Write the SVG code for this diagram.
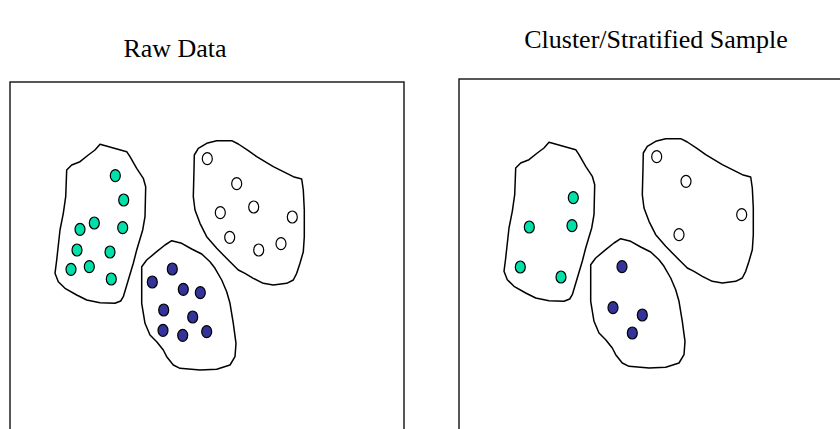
<svg xmlns="http://www.w3.org/2000/svg" xmlns:xlink="http://www.w3.org/1999/xlink" width="840" height="429" viewBox="0 0 840 429">
<style>
.title{font-family:"Liberation Serif","Times New Roman",serif;font-size:26px;fill:#000;text-anchor:middle}
.frame{fill:#fff;stroke:#111;stroke-width:1.4}
.blob{fill:#fff;stroke:#000;stroke-width:1.5;stroke-linejoin:round}
.g{fill:#00E0A8;stroke:#000;stroke-width:1.2}
.b{fill:#333399;stroke:#000;stroke-width:1.2}
.w{fill:#fff;stroke:#000;stroke-width:1.2}
</style>
<defs>
<path id="blobG" class="blob" d="M100,144.3 L126.7,151.7 L130,156.7 L136.7,168.3 L143.3,178.3 L145.7,186.7 L145,216.7 L142.7,230 L136.7,250 L133.3,263.3 L128.3,280 L123.3,296.7 L120.7,301 L115,303.3 L100,302.7 L86.7,300 L76.7,295 L65,288.3 L58.3,281.7 L55,273.3 L56.7,260 L60,230 L63.3,213.3 L65.7,196.7 L66.7,170 L71.7,165 L80,161.7 L88.3,155 L95,150 Z"/>
<path id="blobB" class="blob" d="M171.7,240.7 L181.7,243.3 L191.7,249 L201.7,254 L210,261.7 L215,268.3 L221.7,280 L226.7,291.7 L230,303.3 L233.3,323.3 L236,343.3 L235,356.7 L230,365 L216.7,369.3 L200,370 L180,368.3 L173.3,365 L166.7,356.7 L163.3,350 L156.7,341.7 L150,335 L145,323.3 L141.7,303.3 L141.7,266.7 L146.7,260 L156.7,251.7 L165,245 Z"/>
<path id="blobW" class="blob" d="M216.7,140.7 L231.7,140.7 L238.3,144 L248.3,150.7 L256.7,156.7 L265,161.7 L273.3,166.7 L283.3,171.7 L293.3,176.7 L301.7,179 L303.3,190 L304.3,210 L304.3,236.7 L303.3,251.7 L300,263.3 L296.7,273.3 L293.3,280 L286.7,283.3 L273.3,285 L263.3,283.3 L253.3,278.3 L245,273.3 L238.3,270 L230,261.7 L223.3,255 L216.7,248.3 L206.7,236.7 L200,223.3 L195,210 L193.3,196.7 L194,170 L194.3,155 L198.3,148.3 L206.7,143.3 Z"/>
</defs>
<g id="title-raw"><text class="title" x="175" y="57">Raw Data</text></g>
<g id="title-sample"><text class="title" x="656" y="48">Cluster/Stratified Sample</text></g>
<g id="panel-raw">
<rect class="frame" x="10" y="82" width="394" height="360"/>
<g id="raw-cluster-green">
<use xlink:href="#blobG"/>
<ellipse class="g" cx="115.3" cy="175.7" rx="5" ry="6"/>
<ellipse class="g" cx="123.7" cy="200" rx="5" ry="6"/>
<ellipse class="g" cx="94.3" cy="223" rx="5" ry="6"/>
<ellipse class="g" cx="80" cy="229.3" rx="5" ry="6"/>
<ellipse class="g" cx="122.7" cy="227.7" rx="5" ry="6"/>
<ellipse class="g" cx="77" cy="250" rx="5" ry="6"/>
<ellipse class="g" cx="110" cy="252" rx="5" ry="6"/>
<ellipse class="g" cx="71" cy="269.3" rx="5" ry="6"/>
<ellipse class="g" cx="89.3" cy="266.7" rx="5" ry="6"/>
<ellipse class="g" cx="111.3" cy="279" rx="5" ry="6"/>
</g>
<g id="raw-cluster-blue">
<use xlink:href="#blobB"/>
<ellipse class="b" cx="172.3" cy="269" rx="5" ry="6"/>
<ellipse class="b" cx="152.3" cy="282" rx="5" ry="6"/>
<ellipse class="b" cx="183.3" cy="289.3" rx="5" ry="6"/>
<ellipse class="b" cx="200.3" cy="292.7" rx="5" ry="6"/>
<ellipse class="b" cx="163.7" cy="310" rx="5" ry="6"/>
<ellipse class="b" cx="192.7" cy="317" rx="5" ry="6"/>
<ellipse class="b" cx="163" cy="330.3" rx="5" ry="6"/>
<ellipse class="b" cx="182.7" cy="335.3" rx="5" ry="6"/>
<ellipse class="b" cx="206.7" cy="331.7" rx="5" ry="6"/>
</g>
<g id="raw-cluster-white">
<use xlink:href="#blobW"/>
<ellipse class="w" cx="207.3" cy="158.7" rx="5" ry="6"/>
<ellipse class="w" cx="236.7" cy="183.7" rx="5" ry="6"/>
<ellipse class="w" cx="220.3" cy="212.7" rx="5" ry="6"/>
<ellipse class="w" cx="253.7" cy="207" rx="5" ry="6"/>
<ellipse class="w" cx="292.3" cy="217" rx="5" ry="6"/>
<ellipse class="w" cx="229.7" cy="237.3" rx="5" ry="6"/>
<ellipse class="w" cx="258.7" cy="250" rx="5" ry="6"/>
<ellipse class="w" cx="281" cy="243.7" rx="5" ry="6"/>
</g>
</g>
<g id="panel-sample">
<rect class="frame" x="459" y="79" width="400" height="360"/>
<g transform="translate(449,-2)">
<g id="sample-cluster-green">
<use xlink:href="#blobG"/>
<ellipse class="g" cx="124.3" cy="199.7" rx="5" ry="6"/>
<ellipse class="g" cx="80.3" cy="229" rx="5" ry="6"/>
<ellipse class="g" cx="123" cy="227.7" rx="5" ry="6"/>
<ellipse class="g" cx="71.3" cy="269" rx="5" ry="6"/>
<ellipse class="g" cx="112" cy="279" rx="5" ry="6"/>
</g>
<g id="sample-cluster-blue">
<use xlink:href="#blobB"/>
<ellipse class="b" cx="173" cy="268.7" rx="5" ry="6"/>
<ellipse class="b" cx="164" cy="309.7" rx="5" ry="6"/>
<ellipse class="b" cx="193.3" cy="317" rx="5" ry="6"/>
<ellipse class="b" cx="183.3" cy="335" rx="5" ry="6"/>
</g>
<g id="sample-cluster-white">
<use xlink:href="#blobW"/>
<ellipse class="w" cx="207.7" cy="158.7" rx="5" ry="6"/>
<ellipse class="w" cx="237" cy="183.3" rx="5" ry="6"/>
<ellipse class="w" cx="292.7" cy="216.7" rx="5" ry="6"/>
<ellipse class="w" cx="230" cy="236.7" rx="5" ry="6"/>
</g>
</g>
</g>
<g id="connectors"/>
</svg>
